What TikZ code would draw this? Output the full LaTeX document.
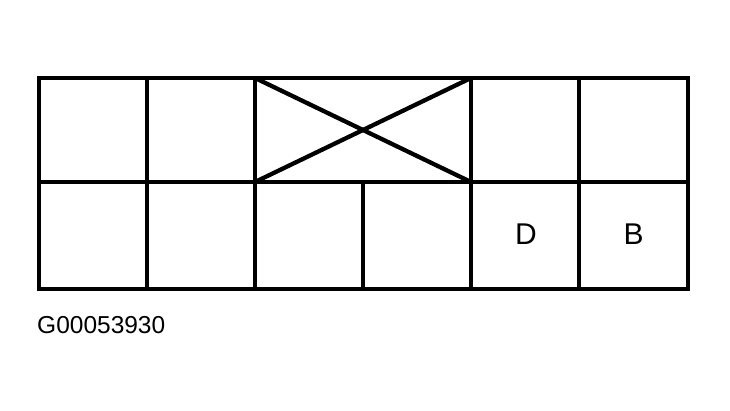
\documentclass[tikz,border=0pt]{standalone}
\usepackage{fontspec}
\setmainfont{Liberation Sans}
\begin{document}
\begin{tikzpicture}[x=1pt,y=-1pt,
  gridline/.style={line width=4.3pt, line cap=rect, line join=miter},
  xline/.style={line width=4.3pt},
  lbl/.style={font=\fontsize{30}{34}\selectfont, inner sep=0pt},
  code/.style={font=\fontsize{24.5}{28}\selectfont, inner sep=0pt, anchor=west}]
\useasboundingbox (0,0) rectangle (730,411);
% coordinates
\coordinate (tl) at (39,78);
\coordinate (br) at (688,289);
\foreach \x [count=\i] in {39,147,255,363,471,579,688} {
  \coordinate (t\i) at (\x,78);
  \coordinate (m\i) at (\x,182);
  \coordinate (b\i) at (\x,289);
}
\draw[gridline] (tl) rectangle (br);
\draw[gridline] (m1) -- (m7);
\draw[gridline] (t2) -- (b2);
\draw[gridline] (t3) -- (b3);
\draw[gridline] (m4) -- (b4);
\draw[gridline] (t5) -- (b5);
\draw[gridline] (t6) -- (b6);
\draw[xline] (t3) -- (m5);
\draw[xline] (m3) -- (t5);
\node[lbl] (D) at (526,234.5) {D};
\node[lbl] (B) at (633.5,234.5) {B};
\node[code] (G) at (37,325.5) {G00053930};
\end{tikzpicture}
\end{document}
